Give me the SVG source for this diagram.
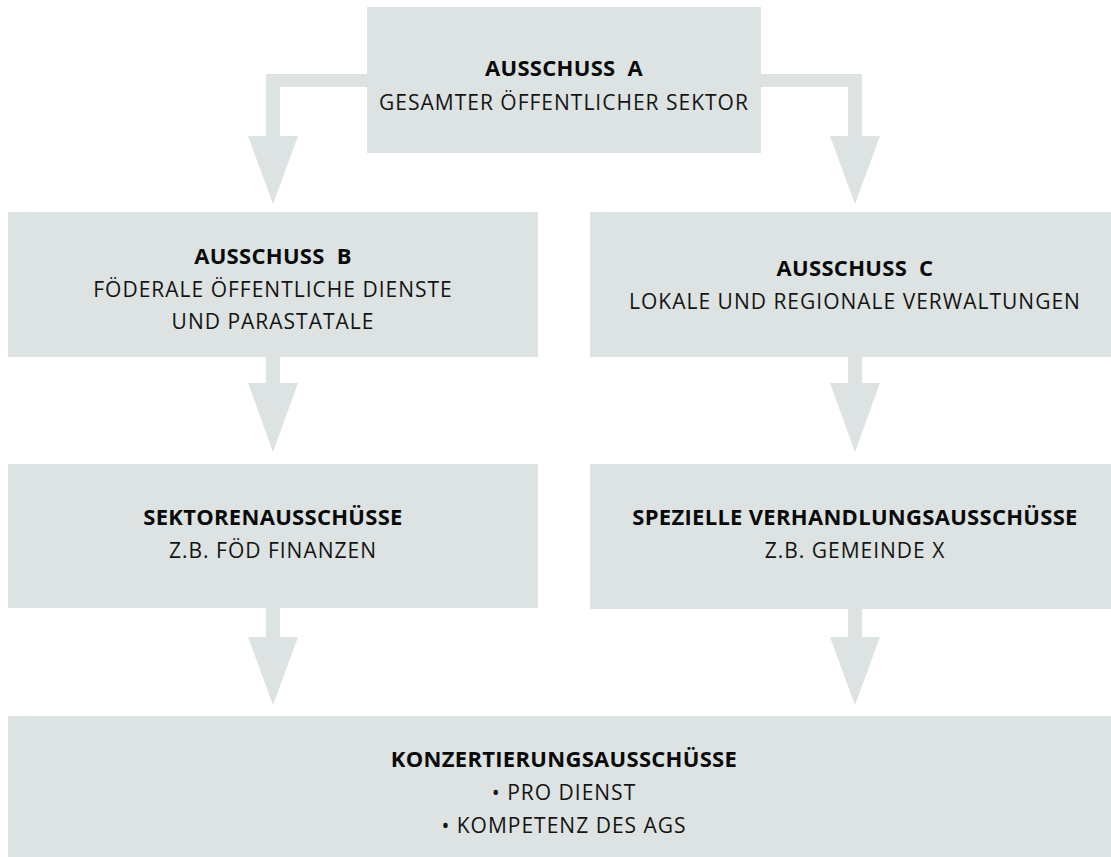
<svg xmlns="http://www.w3.org/2000/svg" width="1111" height="857" viewBox="0 0 1111 857">
<style>
.box{fill:#dce3e2}
.arrow{fill:#dce3e2}
text{font-family:"Open Sans","Noto Sans","Liberation Sans",sans-serif;font-size:21px;text-anchor:middle;fill:#141414}
.b{font-weight:bold;font-size:22px;letter-spacing:0.3px;fill:#0a0a0a}
.r{letter-spacing:1px}
</style>
<rect width="1111" height="857" fill="#ffffff"/>
<g id="connectors">
<polygon class="arrow" points="367,74 266,74 266,136 248,136 273,204 298,136 280,136 280,87 367,87"/>
<polygon class="arrow" points="761,74 862,74 862,136 880,136 855,204 830,136 848,136 848,87 761,87"/>
<polygon class="arrow" points="266,357 280,357 280,383 298,383 273,452 248,383 266,383"/>
<polygon class="arrow" points="848,357 862,357 862,383 880,383 855,452 830,383 848,383"/>
<polygon class="arrow" points="266,608 280,608 280,637 298,637 273,705 248,637 266,637"/>
<polygon class="arrow" points="848,609 862,609 862,637 880,637 855,705 830,637 848,637"/>
</g>
<g id="ausschuss-a">
<rect class="box" x="367" y="7" width="394" height="146"/>
<text class="b" x="564" y="76">AUSSCHUSS&#160; A</text>
<text class="r" x="564" y="110">GESAMTER ÖFFENTLICHER SEKTOR</text>
</g>
<g id="ausschuss-b">
<rect class="box" x="8" y="212" width="530" height="145"/>
<text class="b" x="273" y="264">AUSSCHUSS&#160; B</text>
<text class="r" x="273" y="297">FÖDERALE ÖFFENTLICHE DIENSTE</text>
<text class="r" x="273" y="329">UND PARASTATALE</text>
</g>
<g id="ausschuss-c">
<rect class="box" x="590" y="212" width="530" height="145"/>
<text class="b" x="855" y="276">AUSSCHUSS&#160; C</text>
<text class="r" x="855" y="309">LOKALE UND REGIONALE VERWALTUNGEN</text>
</g>
<g id="sektorenausschuesse">
<rect class="box" x="8" y="464" width="530" height="144"/>
<text class="b" x="273" y="525">SEKTORENAUSSCHÜSSE</text>
<text class="r" x="273" y="558">Z.B. FÖD FINANZEN</text>
</g>
<g id="spezielle-verhandlungsausschuesse">
<rect class="box" x="590" y="464" width="530" height="145"/>
<text class="b" x="855" y="525">SPEZIELLE VERHANDLUNGSAUSSCHÜSSE</text>
<text class="r" x="855" y="558">Z.B. GEMEINDE X</text>
</g>
<g id="konzertierungsausschuesse">
<rect class="box" x="8" y="716" width="1112" height="145"/>
<text class="b" x="564" y="767">KONZERTIERUNGSAUSSCHÜSSE</text>
<text class="r" x="564" y="800">• PRO DIENST</text>
<text class="r" x="564" y="833">• KOMPETENZ DES AGS</text>
</g>
</svg>
